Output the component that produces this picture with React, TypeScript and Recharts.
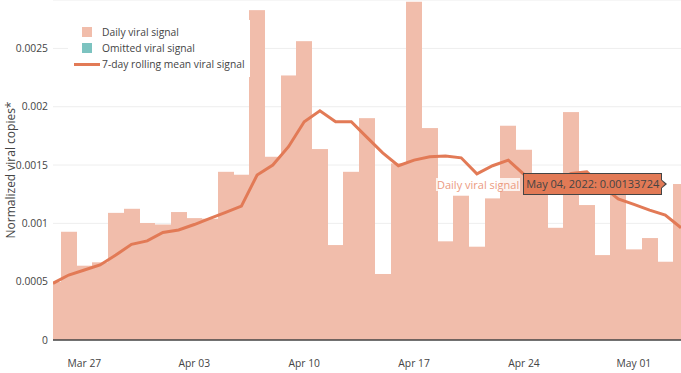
import { Bar, CartesianGrid, ComposedChart, Label, Line, Tooltip, XAxis, YAxis } from 'recharts';

const days = [
  'Mar 25', 'Mar 26', 'Mar 27', 'Mar 28', 'Mar 29', 'Mar 30', 'Mar 31',
  'Apr 01', 'Apr 02', 'Apr 03', 'Apr 04', 'Apr 05', 'Apr 06', 'Apr 07',
  'Apr 08', 'Apr 09', 'Apr 10', 'Apr 11', 'Apr 12', 'Apr 13', 'Apr 14',
  'Apr 15', 'Apr 16', 'Apr 17', 'Apr 18', 'Apr 19', 'Apr 20', 'Apr 21',
  'Apr 22', 'Apr 23', 'Apr 24', 'Apr 25', 'Apr 26', 'Apr 27', 'Apr 28',
  'Apr 29', 'Apr 30', 'May 01', 'May 02', 'May 03', 'May 04',
];

const dailySignal = [
  0.000497, 0.000928, 0.000637, 0.000666, 0.00109, 0.001125, 0.001003,
  0.00099, 0.001097, 0.001045, 0.00104, 0.001442, 0.001417, 0.002828,
  0.001571, 0.002268, 0.002562, 0.001637, 0.000814, 0.001442, 0.001902,
  0.000566, 0.001514, 0.0029, 0.001817, 0.000846, 0.001237, 0.0008,
  0.001214, 0.001837, 0.001631, 0.00134, 0.000962, 0.001954, 0.001157,
  0.000728, 0.00135, 0.000777, 0.000874, 0.000671, 0.00133724,
];

const rollingMean = [
  0.000486, 0.000557, 0.0006, 0.000643, 0.000728, 0.00082, 0.00085,
  0.000922, 0.000943, 0.00099, 0.001042, 0.001094, 0.001148, 0.001414,
  0.0015, 0.001657, 0.001871, 0.001965, 0.001871, 0.001871, 0.001737,
  0.001605, 0.001494, 0.001542, 0.001571, 0.001577, 0.001562, 0.001425,
  0.001494, 0.001542, 0.00142, 0.00137, 0.00136, 0.001427, 0.001442,
  0.00132, 0.00121, 0.001163, 0.001114, 0.001071, 0.000962,
];

const xTickLabels = ['Mar 27', 'Apr 03', 'Apr 10', 'Apr 17', 'Apr 24', 'May 01'];
const yTicks = [0, 0.0005, 0.001, 0.0015, 0.002, 0.0025];

const data = days.map((day, i) => ({
  idx: i,
  day,
  daily: dailySignal[i],
  mean: rollingMean[i],
}));
const xTicks = xTickLabels.map((label) => days.indexOf(label));

const SIGNAL = '#e27a56';
const SIGNAL_LIGHT = '#f1bdab'; // SIGNAL at 50% over white
const OMITTED = '#7cc3c0';
const TEXT = '#444';
const FONT = '"Open Sans", sans-serif';

// snap bar edges to whole pixels so neighbouring bars meet without seams
const SnappedBar = (props: any) => {
  const { x, y, width, height, fill } = props;
  const x0 = Math.round(x);
  const x1 = Math.round(x + width);
  return <rect x={x0} y={y} width={x1 - x0} height={height} fill={fill} />;
};

const HoverLabel = ({ payload }: any) => {
  const entry = payload?.find((p: any) => p.dataKey === 'daily');
  const i = entry?.payload?.idx ?? days.length - 1;
  return (
    <div style={{ display: 'flex', alignItems: 'center', fontFamily: FONT, fontSize: 11 }}>
      <span
        style={{
          background: 'rgba(255,255,255,0.8)',
          color: '#eb9a7f',
          padding: '0 1px',
          lineHeight: '13px',
          whiteSpace: 'nowrap',
        }}
      >
        Daily viral signal
      </span>
      <div
        style={{
          position: 'relative',
          marginLeft: 3,
          background: SIGNAL,
          border: `1px solid ${TEXT}`,
          color: TEXT,
          padding: '0 2px',
          height: 20,
          lineHeight: '20px',
          whiteSpace: 'nowrap',
        }}
      >
        {`${days[i]}, 2022: ${dailySignal[i]}`}
        <span
          style={{
            position: 'absolute',
            right: -6,
            top: 5,
            borderTop: '5px solid transparent',
            borderBottom: '5px solid transparent',
            borderLeft: `6px solid ${TEXT}`,
          }}
        />
        <span
          style={{
            position: 'absolute',
            right: -4,
            top: 6,
            borderTop: '4px solid transparent',
            borderBottom: '4px solid transparent',
            borderLeft: `4px solid ${SIGNAL}`,
          }}
        />
      </div>
    </div>
  );
};

const LegendBox = () => {
  const row = { display: 'flex', alignItems: 'center', height: 16 } as const;
  const swatchCell = { width: 30, display: 'flex', justifyContent: 'center', alignItems: 'center' } as const;
  return (
    <div
      style={{
        position: 'absolute',
        left: 68,
        top: 20,
        width: 182,
        height: 57,
        background: '#fff',
        fontFamily: FONT,
        fontSize: 10.3,
        color: TEXT,
        paddingTop: 4,
        paddingLeft: 4,
        boxSizing: 'border-box',
      }}
    >
      <div style={row}>
        <div style={swatchCell}>
          <div style={{ width: 10, height: 10, background: SIGNAL_LIGHT }} />
        </div>
        <span>Daily viral signal</span>
      </div>
      <div style={row}>
        <div style={swatchCell}>
          <div style={{ width: 10, height: 10, background: OMITTED }} />
        </div>
        <span>Omitted viral signal</span>
      </div>
      <div style={row}>
        <div style={swatchCell}>
          <div style={{ width: 26, height: 3, background: SIGNAL }} />
        </div>
        <span>7-day rolling mean viral signal</span>
      </div>
    </div>
  );
};

export default function App() {
  return (
    <div style={{ position: 'absolute', left: 0, top: 0, width: 681, height: 373, background: '#fff' }}>
      <ComposedChart
        width={681}
        height={373}
        data={data}
        margin={{ top: 0, right: 0, bottom: 0, left: 0 }}
        barCategoryGap={0}
        barGap={0}
      >
        <CartesianGrid vertical={false} stroke="#eee" />
        <XAxis
          type="number"
          dataKey="idx"
          domain={[0, days.length - 1]}
          allowDataOverflow
          ticks={xTicks}
          interval={0}
          tickFormatter={(i) => days[i]}
          height={33}
          axisLine={{ stroke: TEXT, strokeWidth: 1.5 }}
          tickLine={false}
          tickMargin={14}
          tick={{ fill: TEXT, fontSize: 10.3, fontFamily: FONT }}
        />
        <YAxis
          domain={[0, 0.002915]}
          allowDataOverflow
          ticks={yTicks}
          width={53}
          axisLine={false}
          tickLine={false}
          tickSize={2}
          tickMargin={3}
          tickFormatter={(v) => String(v)}
          tick={{ fill: TEXT, fontSize: 10.3, fontFamily: FONT }}
        >
          <Label
            content={({ viewBox }: any) => {
              const cy = viewBox.y + viewBox.height / 2;
              return (
                <text
                  x={10.5}
                  y={cy}
                  transform={`rotate(-90, 10.5, ${cy})`}
                  textAnchor="middle"
                  dominantBaseline="central"
                  fill={TEXT}
                  fontSize={12}
                  fontFamily={FONT}
                >
                  Normalized viral copies*
                </text>
              );
            }}
          />
        </YAxis>
        <Bar dataKey="daily" fill={SIGNAL_LIGHT} shape={<SnappedBar />} isAnimationActive={false} />
        <Line
          dataKey="mean"
          type="linear"
          stroke={SIGNAL}
          strokeWidth={3}
          dot={false}
          activeDot={false}
          isAnimationActive={false}
        />
        <Tooltip
          active
          defaultIndex={days.length - 1}
          cursor={false}
          position={{ x: 436, y: 173 }}
          content={<HoverLabel />}
          isAnimationActive={false}
        />
      </ComposedChart>
      <LegendBox />
    </div>
  );
}
